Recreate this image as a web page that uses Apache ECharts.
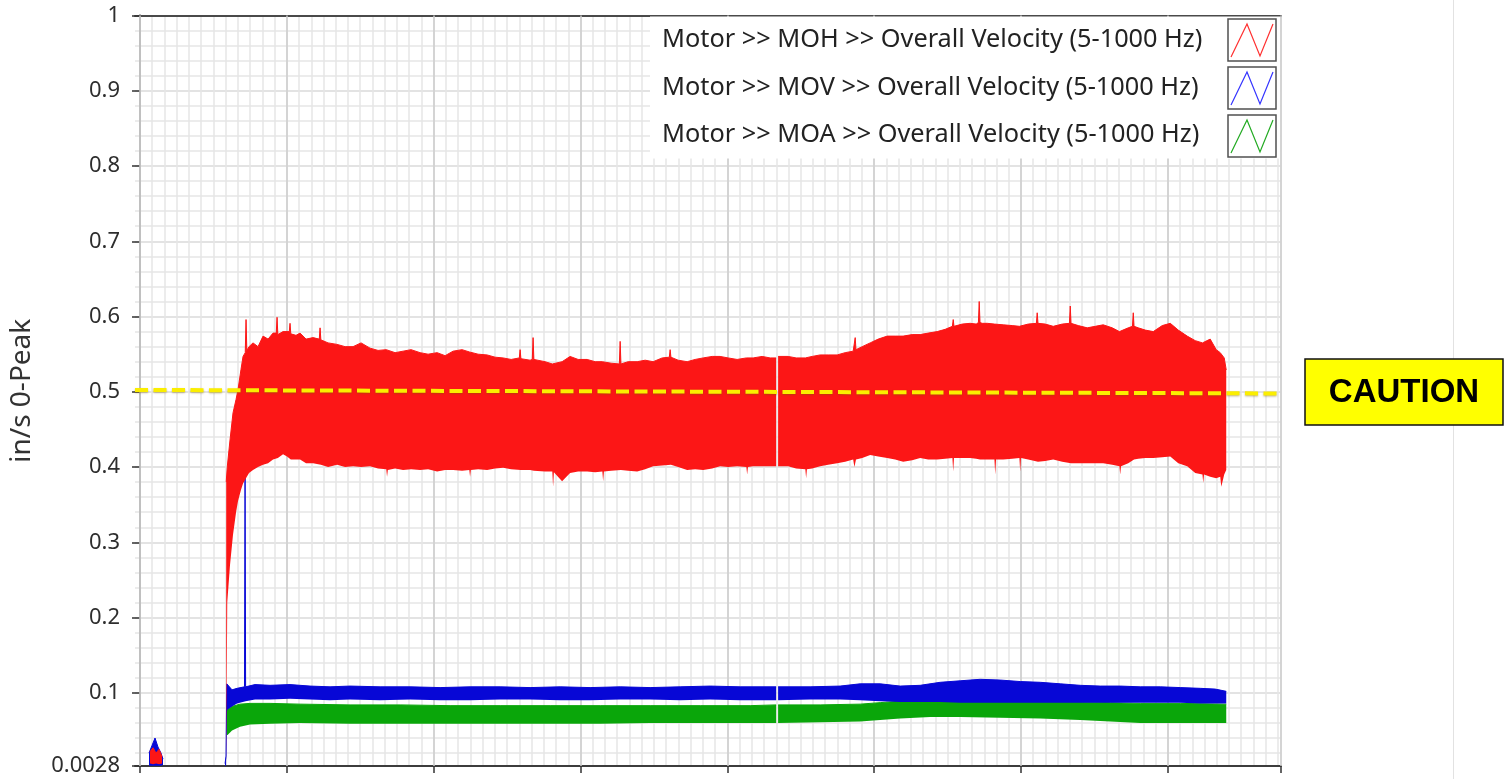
<!DOCTYPE html>
<html><head><meta charset="utf-8">
<script src="https://cdn.jsdelivr.net/npm/echarts@6/dist/echarts.min.js"></script>
<style>html,body{margin:0;padding:0;background:#fff;overflow:hidden}
.layer{position:absolute;left:0;top:0;width:1510px;height:779px}</style>
</head><body><div class="layer" id="axes"></div><div class="layer" id="marks"></div>
<script>
// ---- DATA (time in hours, values in in/s 0-Peak) ----
const seriesNames = [
  'Motor >> MOH >> Overall Velocity (5-1000 Hz)',
  'Motor >> MOV >> Overall Velocity (5-1000 Hz)',
  'Motor >> MOA >> Overall Velocity (5-1000 Hz)'
];
const yAxisTitle = 'in/s 0-Peak';
const yMin = 0.0028, yMax = 1;
const yTickValues = [0.0028, 0.1, 0.2, 0.3, 0.4, 0.5, 0.6, 0.7, 0.8, 0.9, 1];
const yTickLabels = ['0.0028', '0.1', '0.2', '0.3', '0.4', '0.5', '0.6', '0.7', '0.8', '0.9', '1'];
const xMin = -0.82, xMax = 186.5;
const cautionLabel = 'CAUTION';
const cautionT = [-0.82, 186.5];
const cautionV = [0.5025, 0.4978];

// MOH (red) envelope: lower / upper edge of the band
const tRed = [1.63,2.13,2.62,3.11,3.60,8.00,
 14.09,14.26,14.71,15.20,15.70,16.02,16.51,16.84,17.20,17.33,17.46,17.82,18.47,19.29,20.11,20.93,21.74,22.27,22.40,22.53,23.38,24.03,24.40,24.52,24.65,25.50,26.16,27.14,28.29,29.30,29.43,29.56,30.74,32.21,33.52,34.82,36.13,37.60,38.91,40.25,40.38,40.51,41.69,43.00,44.31,45.78,47.09,48.56,49.87,51.17,52.64,53.82,53.95,54.08,55.26,56.73,58.04,59.35,60.66,62.00,62.13,62.26,63.76,64.12,64.25,64.38,66.21,67.39,67.52,67.65,68.99,70.30,71.61,73.08,74.39,75.57,75.70,75.83,77.01,78.35,78.48,78.61,79.79,81.26,82.57,83.87,85.35,86.52,86.65,86.78,87.96,89.43,90.74,92.05,93.52,94.82,96.13,97.60,99.11,99.24,99.37,100.22,101.69,103.00,103.98,104.14,
 104.30,105.94,107.25,108.75,108.88,109.01,109.86,111.17,112.48,113.95,115.26,116.57,116.77,116.90,117.03,118.04,119.35,120.66,122.13,123.43,124.74,126.21,127.52,128.83,130.30,131.61,132.79,132.92,133.05,134.39,135.70,136.68,137.04,137.17,137.30,137.66,138.48,139.66,139.79,139.92,141.09,142.56,143.74,143.87,144.00,145.18,146.52,146.65,146.78,147.96,149.27,150.74,151.92,152.05,152.18,153.36,154.83,156.13,157.44,158.91,160.09,160.22,160.35,161.53,162.22,162.35,162.48,163.17,164.31,165.62,167.09,168.40,169.71,171.17,172.48,173.66,173.79,173.92,174.93,175.91,176.57,176.74,177.22,177.55];
const redLow = [0.006,0.005,0.006,0.005,0.006,null,
 0.003,0.220,0.270,0.310,0.340,0.355,0.370,0.378,0.385,0.385,0.387,0.392,0.396,0.400,0.403,0.405,0.410,0.410,0.412,0.412,0.417,0.414,0.412,0.410,0.410,0.410,0.410,0.405,0.405,0.403,0.403,0.403,0.400,0.403,0.400,0.401,0.400,0.401,0.398,0.397,0.387,0.396,0.398,0.396,0.397,0.396,0.397,0.394,0.396,0.396,0.395,0.396,0.387,0.396,0.397,0.396,0.398,0.399,0.397,0.396,0.396,0.396,0.396,0.396,0.395,0.395,0.394,0.394,0.374,0.393,0.381,0.392,0.394,0.394,0.393,0.394,0.381,0.394,0.395,0.396,0.396,0.396,0.395,0.394,0.397,0.401,0.402,0.403,0.403,0.403,0.400,0.396,0.397,0.396,0.398,0.401,0.400,0.401,0.400,0.390,0.400,0.401,0.401,0.401,0.401,null,
 0.401,0.401,0.398,0.397,0.385,0.397,0.398,0.401,0.403,0.405,0.407,0.410,0.400,0.405,0.410,0.412,0.416,0.414,0.412,0.410,0.407,0.409,0.412,0.410,0.410,0.411,0.412,0.394,0.412,0.412,0.412,0.411,0.411,0.410,0.410,0.410,0.410,0.410,0.390,0.410,0.410,0.411,0.412,0.394,0.412,0.410,0.407,0.407,0.407,0.408,0.410,0.407,0.405,0.405,0.405,0.405,0.405,0.405,0.405,0.403,0.401,0.390,0.401,0.405,0.410,0.410,0.410,0.411,0.412,0.412,0.413,0.414,0.405,0.401,0.392,0.390,0.379,0.390,0.387,0.385,0.387,0.374,0.390,0.396];
const redHigh = [0.022,0.027,0.020,0.025,0.015,null,
 0.380,0.400,0.436,0.472,0.490,0.503,0.530,0.547,0.552,0.596,0.555,0.560,0.565,0.560,0.574,0.570,0.578,0.578,0.599,0.576,0.580,0.580,0.580,0.591,0.577,0.575,0.578,0.570,0.572,0.570,0.585,0.569,0.565,0.563,0.560,0.560,0.565,0.558,0.555,0.556,0.558,0.556,0.552,0.554,0.556,0.552,0.550,0.552,0.548,0.554,0.556,0.553,0.554,0.552,0.550,0.549,0.546,0.545,0.543,0.545,0.556,0.544,0.542,0.543,0.572,0.543,0.540,0.537,0.536,0.537,0.540,0.547,0.543,0.543,0.540,0.540,0.540,0.540,0.538,0.537,0.567,0.537,0.540,0.540,0.542,0.540,0.545,0.546,0.556,0.546,0.542,0.540,0.543,0.545,0.547,0.547,0.545,0.543,0.545,0.545,0.545,0.545,0.547,0.545,0.545,null,
 0.547,0.547,0.545,0.545,0.545,0.545,0.547,0.549,0.549,0.549,0.552,0.554,0.556,0.572,0.556,0.560,0.565,0.570,0.574,0.574,0.574,0.576,0.576,0.578,0.580,0.583,0.587,0.596,0.587,0.590,0.591,0.590,0.592,0.620,0.592,0.591,0.591,0.590,0.590,0.590,0.589,0.588,0.587,0.587,0.587,0.590,0.591,0.605,0.591,0.590,0.587,0.590,0.591,0.614,0.591,0.588,0.585,0.587,0.589,0.585,0.580,0.580,0.580,0.585,0.587,0.605,0.587,0.585,0.582,0.580,0.588,0.591,0.582,0.574,0.568,0.565,0.565,0.565,0.570,0.556,0.552,0.550,0.545,0.529];

// MOV (blue)
const tBlue = [1.47,1.96,2.45,2.94,3.43,3.76,8.00,13.90,14.06,14.18,14.31,15.04,15.86,17.08,17.17,17.26,18.80,21.25,24.52,27.79,31.06,34.33,39.24,44.14,49.05,53.95,58.86,63.76,68.67,73.57,78.48,83.38,88.29,93.19,98.09,103.98,104.14,104.30,109.53,114.44,117.71,120.98,124.25,127.52,130.79,134.06,137.33,140.60,143.87,147.14,150.41,153.68,156.95,160.22,163.49,166.76,170.03,173.30,175.75,177.55];
const blueLow = [0.003,0.003,0.003,0.003,0.003,0.004,null,0.003,0.003,0.075,0.078,0.082,0.086,0.089,0.089,0.089,0.091,0.091,0.092,0.091,0.090,0.091,0.090,0.091,0.090,0.090,0.091,0.091,0.090,0.090,0.091,0.091,0.090,0.091,0.090,0.090,null,0.090,0.091,0.091,0.090,0.089,0.088,0.088,0.088,0.087,0.087,0.087,0.087,0.087,0.087,0.087,0.087,0.087,0.087,0.087,0.087,0.086,0.086,0.086];
const blueHigh = [0.020,0.030,0.040,0.028,0.020,0.012,null,0.006,0.016,0.112,0.112,0.104,0.106,0.108,0.386,0.108,0.111,0.110,0.111,0.109,0.108,0.109,0.108,0.108,0.107,0.108,0.108,0.107,0.108,0.107,0.108,0.107,0.108,0.109,0.108,0.108,null,0.108,0.108,0.109,0.112,0.112,0.109,0.110,0.114,0.116,0.118,0.117,0.115,0.114,0.112,0.110,0.109,0.109,0.108,0.108,0.107,0.106,0.105,0.102];

// MOA (green)
const tGreen = [14.18,14.31,15.04,16.35,17.98,21.25,26.16,34.33,42.51,50.68,58.86,67.03,75.21,83.38,91.56,99.73,103.98,104.14,104.30,111.17,117.71,120.98,124.25,129.16,134.06,140.60,147.14,153.68,158.59,163.49,170.03,177.55];
const greenLow = [0.044,0.044,0.050,0.055,0.058,0.059,0.060,0.059,0.059,0.059,0.059,0.059,0.059,0.060,0.060,0.060,0.060,null,0.060,0.061,0.062,0.064,0.066,0.068,0.068,0.067,0.066,0.064,0.062,0.060,0.060,0.060];
const greenHigh = [0.078,0.078,0.082,0.085,0.086,0.086,0.085,0.084,0.084,0.083,0.083,0.083,0.083,0.083,0.083,0.083,0.084,null,0.084,0.084,0.085,0.087,0.089,0.091,0.091,0.090,0.089,0.088,0.087,0.086,0.086,0.085];

// ---- STYLE ----
const F = '"Noto Sans", "Open Sans", sans-serif';
const colors = ['#fc1616', '#0707d6', '#0aa60a'];

// ===== Layer 1: axes, grid lines, ticks, axis title =====
const axesOption = {
  backgroundColor: '#ffffff',
  animation: false,
  grid: [
    { left: 135, right: 229, top: 15.5, bottom: 13, outerBoundsMode: 'none' },
    { left: 140, right: 229, top: 15.5, bottom: 13, outerBoundsMode: 'none' },
    { left: 135, right: 229, top: 15.5, bottom: 25.94, outerBoundsMode: 'none' }
  ],
  xAxis: [
    { gridIndex: 0, type: 'value', min: xMin, max: xMax, position: 'bottom',
      axisLine: { show: true, lineStyle: { color: '#3c3c3c', width: 2 } }, axisTick: { show: false }, axisLabel: { show: false }, splitLine: { show: false } },
    { gridIndex: 0, type: 'value', min: xMin, max: xMax, position: 'top',
      axisLine: { show: true, lineStyle: { color: '#4a4a4a', width: 2 } }, axisTick: { show: false }, axisLabel: { show: false }, splitLine: { show: false } },
    { gridIndex: 1, type: 'value', min: 0, max: xMax, interval: 24, position: 'bottom', z: 1,
      axisLine: { show: false }, axisTick: { show: true, length: 7, lineStyle: { color: '#333', width: 1.5 } }, axisLabel: { show: false },
      splitLine: { show: true, lineStyle: { color: '#cdcdcd', width: 1.5 } } },
    { gridIndex: 1, type: 'value', min: 0, max: xMax, interval: 2, position: 'top', z: 0,
      axisLine: { show: false }, axisTick: { show: false }, axisLabel: { show: false },
      splitLine: { show: true, lineStyle: { color: '#e6e6e6', width: 1.5 } } },
    { gridIndex: 2, type: 'value', min: 0, max: 1, show: false }
  ],
  yAxis: [
    { gridIndex: 0, type: 'value', min: yMin, max: yMax, splitNumber: 10, position: 'left',
      name: yAxisTitle, nameLocation: 'middle', nameGap: 99, nameRotate: 90,
      nameTextStyle: { fontSize: 28, color: '#333', fontFamily: F },
      axisLine: { show: true, lineStyle: { color: '#3c3c3c', width: 2 } },
      axisTick: { show: true, length: 8, lineStyle: { color: '#333', width: 1.5 } },
      axisLabel: { show: false },
      splitLine: { show: true, lineStyle: { color: '#cdcdcd', width: 1.5 } } },
    { gridIndex: 0, type: 'value', min: yMin, max: yMax, position: 'right',
      axisLine: { show: true, lineStyle: { color: '#9a9a9a', width: 2 } }, axisTick: { show: false }, axisLabel: { show: false }, splitLine: { show: false } },
    { gridIndex: 1, type: 'value', min: yMin, max: yMax, show: false },
    { gridIndex: 2, type: 'value', min: 0.02, max: 1, interval: 0.02, z: 0,
      axisLine: { show: false }, axisTick: { show: false }, axisLabel: { show: false },
      splitLine: { show: true, lineStyle: { color: '#e6e6e6', width: 1.5 } } }
  ],
  series: [{ type: 'line', xAxisIndex: 0, yAxisIndex: 0, data: [], silent: true }]
};

// ===== Layer 2: data bands, caution line, legend, caution label =====
// band = stacked pair: invisible lower edge + filled (upper - lower).
// Items are [value, time] with encode so the stack runs on the value dimension.
function band(name, t, lo, hi, color, stackId, z) {
  return [
    { type: 'line', name: name + ' (base)', stack: stackId, xAxisIndex: 0, yAxisIndex: 0,
      dimensions: ['v', 't'], encode: { x: 1, y: 0 },
      data: t.map((x, i) => [lo[i] == null ? '-' : lo[i], x]),
      symbol: 'none', showSymbol: false, lineStyle: { opacity: 0, width: 0 }, silent: true, z: z, animation: false },
    { type: 'line', name: name, stack: stackId, xAxisIndex: 0, yAxisIndex: 0,
      dimensions: ['v', 't'], encode: { x: 1, y: 0 },
      data: t.map((x, i) => [hi[i] == null ? '-' : +(hi[i] - lo[i]).toFixed(4), x]),
      symbol: 'none', showSymbol: false, lineStyle: { color: color, width: 1 }, itemStyle: { color: color },
      areaStyle: { color: color, opacity: 1 }, silent: true, z: z, animation: false }
  ];
}

const series = [].concat(
  band(seriesNames[2], tGreen, greenLow, greenHigh, colors[2], 'g', 3),
  band(seriesNames[1], tBlue, blueLow, blueHigh, colors[1], 'b', 4),
  band(seriesNames[0], tRed, redLow, redHigh, colors[0], 'r', 5),
  [{ type: 'line', name: 'caution', xAxisIndex: 0, yAxisIndex: 0,
     data: cautionT.map((x, i) => [x, cautionV[i]]), symbol: 'none', silent: true, z: 8,
     lineStyle: { color: '#fbee00', width: 4, type: [13, 5.5], shadowColor: 'rgba(120,90,0,0.45)', shadowBlur: 2, shadowOffsetY: 1 } }]
);

const legendRows = [40, 88, 135];
const legendBoxTop = [19, 67, 115];
const legendEls = [];
legendEls.push({ type: 'rect', shape: { x: 650, y: 16.5, width: 630, height: 142 }, style: { fill: '#ffffff' }, z: 50 });
seriesNames.forEach((n, i) => {
  legendEls.push({ type: 'text', x: 662, y: legendRows[i], z: 51,
    style: { text: n, font: '25.3px ' + F, fill: '#222', textAlign: 'left', align: 'left', textVerticalAlign: 'middle', verticalAlign: 'middle' } });
  const x0 = 1228, y0 = legendBoxTop[i];
  legendEls.push({ type: 'rect', shape: { x: x0, y: y0, width: 48, height: 42 }, style: { fill: '#fff', stroke: '#505050', lineWidth: 1.5 }, z: 51 });
  legendEls.push({ type: 'polyline', shape: { points: [[x0 + 3, y0 + 38], [x0 + 19, y0 + 5], [x0 + 32, y0 + 37], [x0 + 45, y0 + 5]] },
    style: { fill: 'none', stroke: ['#ff3030', '#3434ff', '#22aa22'][i], lineWidth: 1.2 }, z: 52 });
});

const marksOption = {
  backgroundColor: 'transparent',
  animation: false,
  grid: [{ left: 135, right: 229, top: 15.5, bottom: 13, outerBoundsMode: 'none' }],
  xAxis: [{ gridIndex: 0, type: 'value', min: xMin, max: xMax, show: false }],
  yAxis: [{ gridIndex: 0, type: 'value', min: yMin, max: yMax, show: false }],
  series: series,
  graphic: { elements: [
    { type: 'line', shape: { x1: 1453.5, y1: 0, x2: 1453.5, y2: 779 }, style: { stroke: '#e2e2e2', lineWidth: 1 }, z: 1 }
  ].concat(legendEls, [
    { type: 'rect', shape: { x: 1305, y: 359, width: 198, height: 66 }, style: { fill: '#ffff00', stroke: '#111', lineWidth: 1.5 }, z: 50 },
    { type: 'text', x: 1404, y: 393, z: 51,
      style: { text: cautionLabel, font: 'bold 33px "Liberation Sans", Arial, sans-serif', fill: '#000', textAlign: 'center', align: 'center', textVerticalAlign: 'middle', verticalAlign: 'middle' } }
  ]) }
};

const axesChart = echarts.init(document.getElementById('axes'), null, { renderer: 'canvas' });
axesChart.setOption(axesOption);

// Y tick labels placed through the y axis scale (convertToPixel), at a fixed 22px size.
const labelEls = yTickValues.map((v, i) => ({
  type: 'text', x: 120, y: axesChart.convertToPixel({ yAxisIndex: 0 }, v), z: 10,
  style: { text: yTickLabels[i], font: '22px ' + F, fill: '#2e2e2e',
    textAlign: 'right', align: 'right', textVerticalAlign: 'middle', verticalAlign: 'middle' }
}));
axesChart.setOption({ graphic: { elements: labelEls } });

echarts.init(document.getElementById('marks'), null, { renderer: 'canvas' }).setOption(marksOption);
</script></body></html>
